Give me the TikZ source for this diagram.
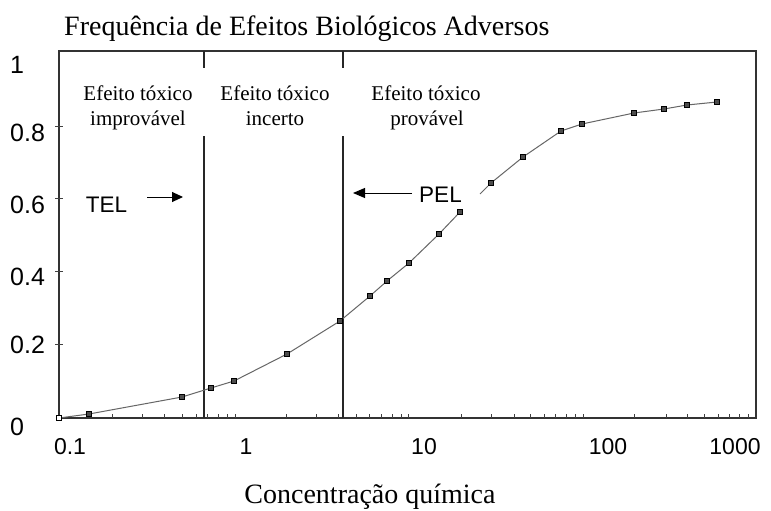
\documentclass[tikz,border=0pt]{standalone}
\usepackage{fontspec}
\setmainfont{Liberation Serif}
\setsansfont{Liberation Sans}
\usetikzlibrary{arrows.meta}
\begin{document}
\begin{tikzpicture}[x=1pt,y=-1pt,
  frameline/.style={draw=black!80, line width=2pt},
  regionline/.style={draw=black!85, line width=2pt},
  tickline/.style={draw=black!75, line width=1pt},
  curve/.style={draw=black!60, line width=1pt},
  mk/.style={rectangle, minimum size=5.5pt, inner sep=0pt, fill=black!70, draw=black, line width=0.6pt},
  numlab/.style={font=\sffamily\fontsize{23}{23}\selectfont, inner sep=0pt},
  ylab/.style={font=\sffamily\fontsize{25}{25}\selectfont, inner sep=0pt, anchor=west},
  xlab/.style={numlab, anchor=center},
  reglab/.style={font=\fontsize{21}{25}\selectfont, inner sep=0pt, anchor=base},
  biglab/.style={font=\fontsize{28}{32}\selectfont, inner sep=0pt},
  lvl/.style={font=\sffamily\fontsize{22.5}{22.5}\selectfont, inner sep=0pt, anchor=center},
  lvlarrow/.style={draw=black, line width=1pt, -{Triangle[length=11pt,width=10pt]}}
]
\useasboundingbox (0,0) rectangle (771,511);
\fill[white] (0,0) rectangle (771,511);

% title and axis label
\node[biglab, anchor=base west] (title) at (64,36) {Frequência de Efeitos Biológicos Adversos};
\node[biglab, anchor=base] (xtitle) at (370,503) {Concentração química};

% frame
\draw[frameline] (59,51) rectangle (756,418);

% y ticks and labels
\foreach \yy in {126,198,271,344} \draw[tickline] (55,\yy) -- (63,\yy);
\node[ylab] (y1) at (10,65) {1};
\node[ylab] (y08) at (10,133) {0.8};
\node[ylab] (y06) at (10,205) {0.6};
\node[ylab] (y04) at (10,276.5) {0.4};
\node[ylab] (y02) at (10,345) {0.2};
\node[ylab] (y0) at (10,427) {0};

% x ticks and labels
\foreach \xx in {112,142,164,182,196,207,218,227,235,286,316,338,356,369,381,392,401,408,461,491,514,530,544,555,566,575,583,634,666,687,704,718,729,739,748}
  \draw[tickline] (\xx,418) -- (\xx,414);
\node[xlab] (x01) at (70,447) {0.1};
\node[xlab] (x1) at (246,447) {1};
\node[xlab] (x10) at (424,447) {10};
\node[xlab] (x100) at (608,447) {100};
\node[xlab] (x1000) at (735,447) {1000};

% region boundaries
\draw[regionline] (204,51) -- (204,68);
\draw[regionline] (204,136) -- (204,418);
\draw[regionline] (343,51) -- (343,68);
\draw[regionline] (343,136) -- (343,418);

% region labels
\node[reglab] (r1a) at (138,100) {Efeito tóxico};
\node[reglab] (r1b) at (138,125) {improvável};
\node[reglab] (r2a) at (275,100) {Efeito tóxico};
\node[reglab] (r2b) at (275,125) {incerto};
\node[reglab] (r3a) at (426,100) {Efeito tóxico};
\node[reglab] (r3b) at (427,125) {provável};

% TEL / PEL
\node[lvl] (tel) at (106.5,205) {TEL};
\coordinate (telA) at (147,197);
\coordinate (telB) at (183,197);
\draw[lvlarrow] (telA) -- (telB);
\node[lvl] (pel) at (440.5,195) {PEL};
\coordinate (pelA) at (412,193);
\coordinate (pelB) at (353,193);
\draw[lvlarrow, -{Triangle[length=12pt,width=10pt]}] (pelA) -- (pelB);

% data points
\node[mk, fill=white] (p1) at (59,418) {};
\node[mk] (p2) at (89,414) {};
\node[mk] (p3) at (182,397) {};
\node[mk] (p4) at (211,388) {};
\node[mk] (p5) at (234,381) {};
\node[mk] (p6) at (287,354) {};
\node[mk] (p7) at (340,321) {};
\node[mk] (p8) at (370,296) {};
\node[mk] (p9) at (387,281) {};
\node[mk] (p10) at (409,263) {};
\node[mk] (p11) at (439,234) {};
\node[mk] (p12) at (460,212) {};
\node[mk] (p13) at (491,183) {};
\node[mk] (p14) at (523,157) {};
\node[mk] (p15) at (561,131) {};
\node[mk] (p16) at (582,124) {};
\node[mk] (p17) at (634,113) {};
\node[mk] (p18) at (664,109) {};
\node[mk] (p19) at (687,105) {};
\node[mk] (p20) at (717,102) {};
\coordinate (gap) at (480,194);

\draw[curve] (p1) -- (p2) -- (p3) -- (p4) -- (p5) -- (p6) -- (p7) -- (p8) -- (p9) -- (p10) -- (p11) -- (p12);
\draw[curve] (gap) -- (p13) -- (p14) -- (p15) -- (p16) -- (p17) -- (p18) -- (p19) -- (p20);
\end{tikzpicture}
\end{document}
